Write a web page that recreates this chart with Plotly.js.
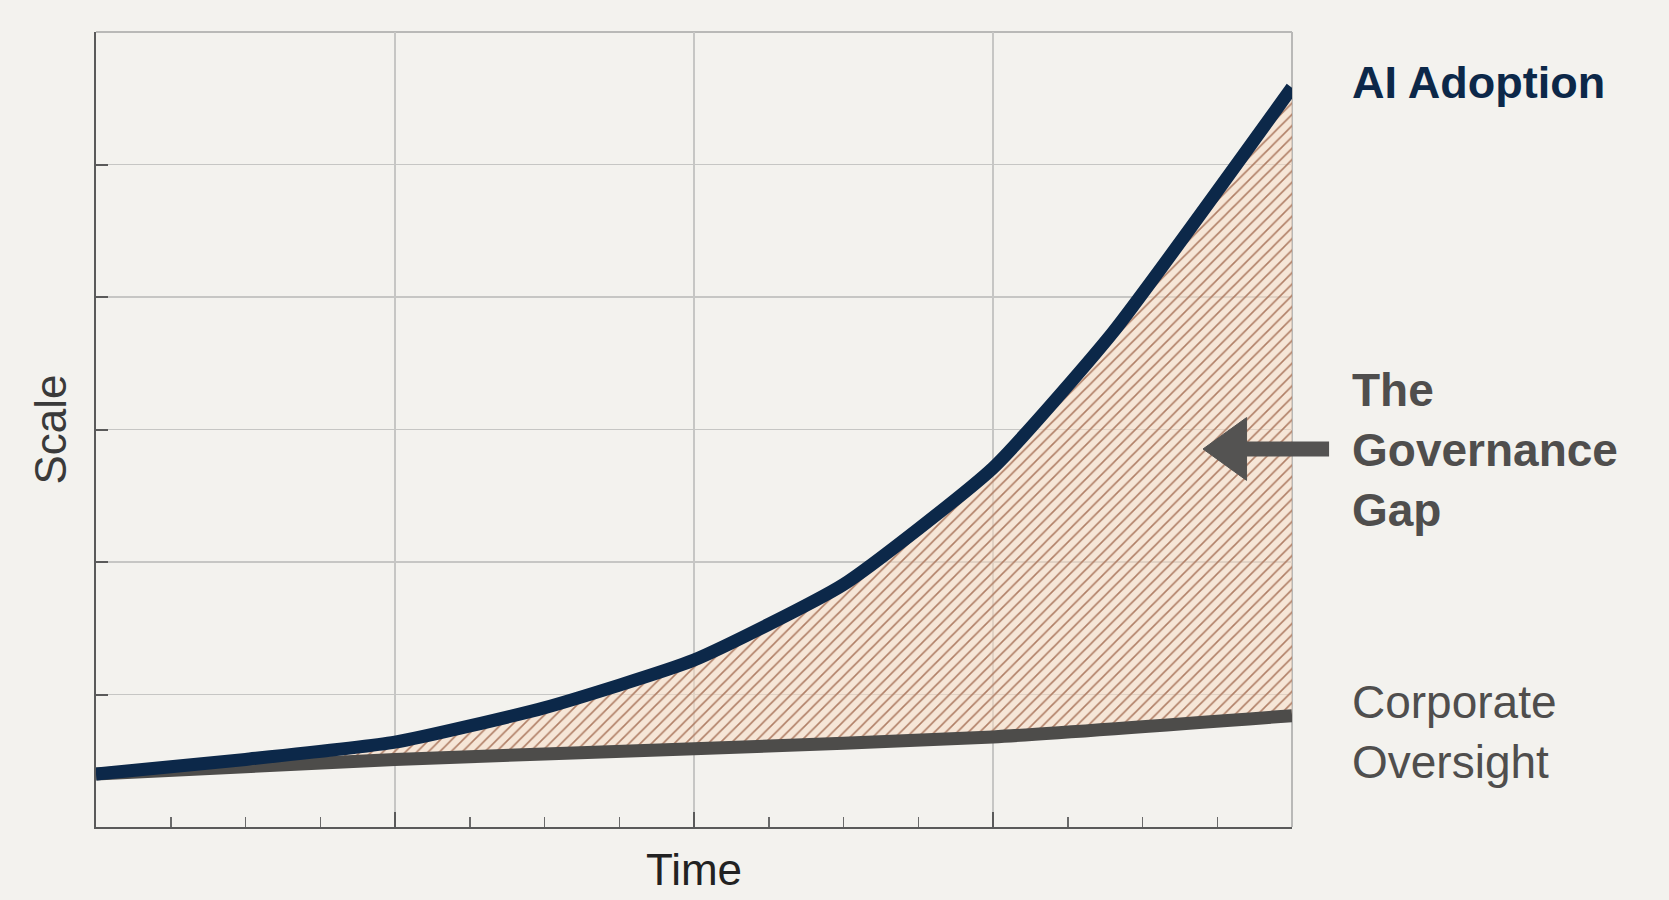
<!DOCTYPE html>
<html>
<head>
<meta charset="utf-8">
<script src="https://cdn.plot.ly/plotly-3.0.1.min.js"></script>
<style>
html,body{margin:0;padding:0;background:#f3f2ee;}
#chart{width:1669px;height:900px;}
</style>
</head>
<body>
<div id="chart"></div>
<script>
// Data
const timeAI = [0, 0.5, 1, 1.5, 2, 2.5, 3, 3.4, 4];
const aiAdoption = [0.40, 0.51, 0.64, 0.90, 1.26, 1.83, 2.71, 3.73, 5.58];
const timeOversight = [0, 1, 2, 3, 4];
const corporateOversight = [0.40, 0.51, 0.59, 0.68, 0.84];
const labelAI = 'AI Adoption';
const labelGap = 'The<br>Governance<br>Gap';
const labelOversight = 'Corporate<br>Oversight';
const xTitle = 'Time';
const yTitle = 'Scale';

const FONT = 'Liberation Sans, Arial, sans-serif';
const NAVY = '#0c2849';
const GRAY = '#4d4c4a';
const GRID = '#c6c6c4';

const traces = [
  {
    x: timeOversight, y: corporateOversight, type: 'scatter', mode: 'lines',
    line: {color: GRAY, width: 13, shape: 'spline', smoothing: 0.6}, hoverinfo: 'skip', showlegend: false
  },
  {
    x: timeAI, y: aiAdoption, type: 'scatter', mode: 'lines',
    line: {color: NAVY, width: 13, shape: 'spline', smoothing: 0.5}, fill: 'tonexty',
    fillcolor: 'rgba(247,220,196,0.55)',
    fillpattern: {shape: '/', fgcolor: '#b07f66', bgcolor: 'rgba(247,220,196,0.55)', size: 8, solidity: 0.2},
    hoverinfo: 'skip', showlegend: false
  }
];

const layout = {
  width: 1669, height: 900,
  margin: {l: 96, r: 377, t: 32, b: 73},
  paper_bgcolor: '#f3f2ee', plot_bgcolor: '#f3f2ee',
  font: {family: FONT, color: '#333'},
  xaxis: {
    range: [0, 4], dtick: 1, tick0: 0, showticklabels: false,
    showgrid: true, gridcolor: GRID, gridwidth: 1.2,
    showline: true, linecolor: '#5a5a5a', linewidth: 2,
    ticks: 'inside', ticklen: 15, tickwidth: 2, tickcolor: '#5a5a5a',
    minor: {dtick: 0.25, ticks: 'inside', ticklen: 10, tickwidth: 1.5, tickcolor: '#6a6a6a', showgrid: false},
    zeroline: false, fixedrange: true,
    title: {text: xTitle, font: {size: 44, color: '#222', family: FONT}, standoff: 26}
  },
  yaxis: {
    range: [0, 6], dtick: 1, tick0: 0, showticklabels: false,
    showgrid: true, gridcolor: GRID, gridwidth: 1.2,
    showline: true, linecolor: '#5a5a5a', linewidth: 2,
    ticks: 'inside', ticklen: 12, tickwidth: 2, tickcolor: '#5a5a5a',
    zeroline: false, fixedrange: true,
    title: {text: yTitle, font: {size: 44, color: '#3a3a3a', family: FONT}, standoff: 14}
  },
  shapes: [
    {type: 'line', xref: 'paper', yref: 'paper', x0: 0, x1: 1, y0: 1, y1: 1, layer: 'below',
     line: {color: '#b9b9b7', width: 2}},
    {type: 'line', xref: 'paper', yref: 'paper', x0: 1, x1: 1, y0: 0, y1: 1, layer: 'below',
     line: {color: '#b9b9b7', width: 2}},
    {type: 'line', xref: 'paper', yref: 'paper', x0: 0.958, x1: 1.031, y0: 0.4755, y1: 0.4755,
     line: {color: '#545352', width: 15}},
    {type: 'path', xref: 'paper', yref: 'paper',
     path: 'M 0.9256 0.4755 L 0.962 0.515 L 0.962 0.436 Z',
     fillcolor: '#545352', line: {color: '#545352', width: 1}}
  ],
  annotations: [
    {text: '<b>' + labelAI + '</b>', xref: 'paper', yref: 'paper', x: 1.0485, y: 0.936,
     xanchor: 'left', yanchor: 'middle', showarrow: false, align: 'left',
     font: {size: 45, color: NAVY, family: FONT}},
    {text: '<b>' + labelGap + '</b>', xref: 'paper', yref: 'paper', x: 1.0485, y: 0.474,
     xanchor: 'left', yanchor: 'middle', showarrow: false, align: 'left',
     font: {size: 46, color: '#4f4e4d', family: FONT}},
    {text: labelOversight, xref: 'paper', yref: 'paper', x: 1.0485, y: 0.1195,
     xanchor: 'left', yanchor: 'middle', showarrow: false, align: 'left',
     font: {size: 46, color: '#4f4e4d', family: FONT}}
  ]
};

Plotly.newPlot('chart', traces, layout, {displayModeBar: false, staticPlot: true});
</script>
</body>
</html>
